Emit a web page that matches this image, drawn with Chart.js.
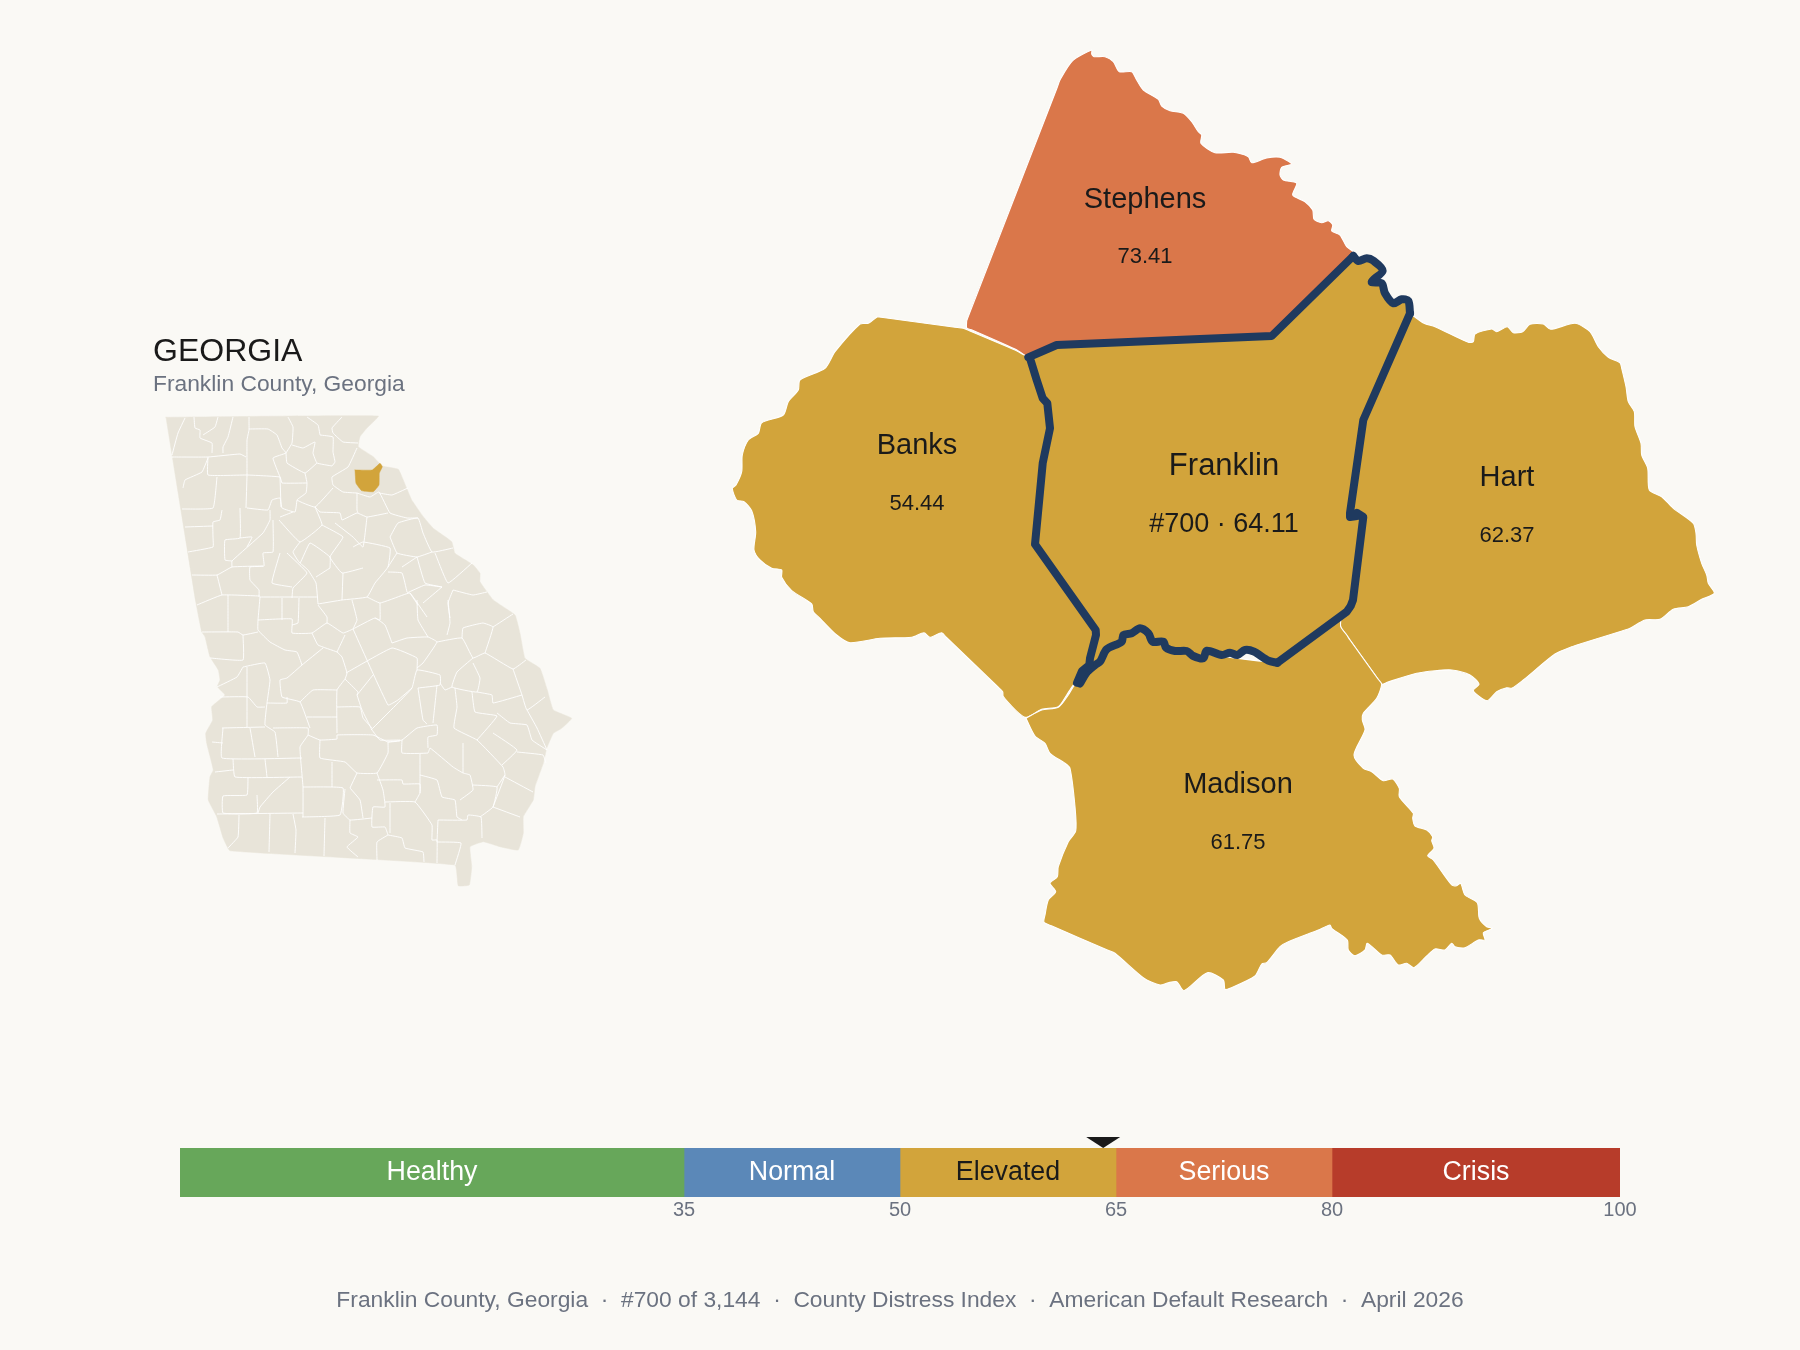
<!DOCTYPE html>
<html><head><meta charset="utf-8">
<script src="https://cdn.jsdelivr.net/npm/chart.js@4"></script>
<style>
html,body{margin:0;padding:0;background:#FAF9F5;width:1800px;height:1350px;overflow:hidden}
canvas{position:absolute;display:block}
</style></head><body>
<canvas id="map" width="1800" height="1350" style="left:0;top:0;width:1800px;height:1350px"></canvas>
<canvas id="strip" width="1560" height="100" style="left:120px;top:1130px;width:1560px;height:100px"></canvas>
<script>
const FONT='"Liberation Sans", Arial, sans-serif';
const bgColor='#FAF9F5', stateColor='#E8E4D9', navy='#1F3A5F', ink='#1A1A1A', slate='#6B7280';
const gold='#D2A43B', orange='#DA774A';

const countyNames=['Stephens','Banks','Franklin','Hart','Madison'];
const countyValues=['73.41','54.44','#700 · 64.11','62.37','61.75'];
const countyColors=[orange,gold,gold,gold,gold];
const labelX=[1145,917,1224,1507,1238];
const nameY=[200,446,466,478,785];
const valueY=[257,504,525,536,843];

const franklinWest=[[1353.3,256],[1271.7,336],[1056.7,345],[1028.3,357.3],[1030,358.3],[1036.7,380],[1042.7,398.3],[1047.3,403.3],[1050,428.3],[1042.7,463.3],[1035,544.3],[1095.7,630],[1096,635],[1090,658.3],[1089.3,665],[1082,671],[1077,682.7]];
const franklinSouth=[[1080,683.5],[1087,672],[1095,665],[1100,661.7],[1106.7,649.3],[1121.7,641.7],[1123.3,635],[1131.7,633.3],[1140,628.3],[1148.3,633.3],[1152.7,641.7],[1163.3,641.7],[1166,647.7],[1175,651],[1186.7,651],[1193.3,656],[1203.3,658.3],[1206.7,650.7],[1221.7,655],[1230,652.7],[1237.3,655],[1245,650],[1254,651.7],[1268.3,660.7],[1277.3,662.7]];
const franklinSouthEast=[[1277.3,662.7],[1346.7,611.7],[1350.7,606],[1353,600],[1363.3,517],[1357,513],[1357,516],[1350,517],[1350,513],[1363.3,420],[1410,313.3]];
const franklinNorthEast=[[1410,313.3],[1408.3,300.7],[1401.7,299.3],[1393.3,303.3],[1385,293.3],[1381.7,283.3],[1371.7,281.7],[1382.7,270.7],[1373.3,260.7],[1366.7,258.3],[1358.3,261],[1353.3,256]];

const stephensEdge=[[966.7,320.7],[970,312],[1057,88],[1060,80],[1072.7,60.7],[1091.7,50],[1091.7,54],[1094,56.7],[1105,56.7],[1113.3,61.7],[1119.3,71.7],[1131.7,71.7],[1136.7,80],[1143.3,90],[1158.3,99.3],[1161.7,106],[1170,110.7],[1183.3,113.3],[1191.7,121.7],[1198.3,131.7],[1201.7,135],[1201,143.3],[1215,152.7],[1233.3,152.3],[1248.3,156.7],[1251.7,162.7],[1266.7,158],[1280,157.3],[1291.7,164],[1281.7,167.3],[1280,175],[1283.3,180],[1296.7,183.3],[1292.7,195],[1305,201.7],[1312.7,210],[1314,219.3],[1321.7,222.7],[1328.3,220.7],[1332.7,225],[1331.7,231],[1340,235],[1346.7,246.7],[1353.3,251.7],[1353.3,256],[1347,262],[1278,330],[1271.7,336],[1263,336.4],[1065,344.6],[1056.7,345],[1050,348],[1035,354.4],[1028.3,357.3],[1020,352],[1015,349],[972,330],[966.7,328]];
const banksEdge=[[877.3,316.7],[885,317.7],[955,327.2],[963.3,328.3],[970,331],[1008,347],[1015,350],[1028.3,357.3],[1030,358.3],[1036.7,380],[1042.7,398.3],[1047.3,403.3],[1050,428.3],[1042.7,463.3],[1035,544.3],[1039,550],[1092,625],[1095.7,630],[1096,635],[1090,658.3],[1077,682.7],[1073.3,685],[1066.7,695],[1058.3,706.7],[1041.7,709.3],[1025,717.3],[1003.3,696.7],[1002.7,691.7],[998,687],[946,637],[941.7,632.7],[930,637.3],[924,632.7],[911.7,637.3],[880,638.3],[850,642.7],[836.7,635],[820,618.3],[813.3,611.7],[811.7,604],[791.7,590.7],[781.7,577.3],[781.7,570],[771.7,568.3],[760,560],[754,550],[755.7,531.7],[751.7,510.7],[744,501.7],[736.7,500],[732.3,488.3],[736,485],[741.7,471.7],[742.3,455],[748.3,440],[758.3,433.3],[761.7,422.7],[783.3,415],[788.3,401.7],[798.3,390],[800,380],[825,368.3],[835,351.7],[860,324],[868.3,323.3]];
const hartEdge=[[1410,313.3],[1424,323.3],[1435,326.7],[1468.3,342.3],[1473.3,341.7],[1475,334],[1491.7,329],[1496.7,331.7],[1507.3,326.7],[1513.3,332.7],[1522.7,331.7],[1530,324.3],[1543.3,324],[1550.7,329.3],[1575,323.3],[1590,331.7],[1598.3,346.7],[1608.3,357.3],[1620,362.7],[1621.7,368.3],[1626,386.7],[1628.3,401.7],[1634.3,411.7],[1635,426.7],[1641,443.3],[1641.7,455],[1647.7,468.3],[1649.3,490],[1661.7,496.7],[1673.3,508.3],[1693.3,523.3],[1696,533.3],[1696.7,545],[1701.7,563.3],[1706.7,575],[1708.3,583.3],[1714.3,593.3],[1701.7,599.3],[1688.3,606.7],[1673.3,609.3],[1660,619.3],[1645,620],[1630,628.3],[1622,631],[1580,644],[1571.7,646.7],[1555,654],[1523.3,680],[1511.7,688.3],[1506.7,687.7],[1496.7,691.7],[1487.3,700.7],[1473.3,690.7],[1479,684],[1470,675],[1451.7,670],[1435,670.7],[1416.7,673.3],[1388,682],[1381.7,684.3],[1378,679],[1350,640],[1346.7,635],[1340.7,626.7],[1340.7,616],[1350,606],[1353,600],[1354,590],[1362,527],[1363.3,517],[1350,513],[1352,500],[1362,428],[1363.3,420],[1366,414],[1407,320]];
const madisonEdge=[[1026,718.3],[1041.7,710],[1058.3,707.3],[1068.3,695],[1073.3,686.7],[1077,682.7],[1095,665],[1106.7,649.3],[1140,628.3],[1152.7,641.7],[1186.7,651],[1277.3,662.7],[1283,658.5],[1335,620],[1340.7,616],[1340.7,626.7],[1346.7,635],[1350,640],[1378,679],[1381.7,684.3],[1376.7,698.3],[1363.3,713.3],[1362.3,720],[1365,730],[1354,755],[1363.3,768.3],[1371.7,771.7],[1383.3,780.7],[1392.7,779],[1399.3,788.3],[1399.3,796.7],[1413.3,813.3],[1412.7,818.3],[1415,826],[1426.7,830],[1432.7,836.7],[1431.7,840.7],[1434,848.3],[1427.7,855.7],[1433.3,860],[1451.7,885],[1456.7,885.7],[1460.7,883.3],[1465,895],[1477.3,902.7],[1479.3,918.3],[1486.7,926.7],[1492.7,928.3],[1483.3,932.7],[1485,940],[1478.3,940],[1465,947.7],[1455,946.7],[1451.7,943.3],[1445,950],[1435,949],[1426.7,956],[1414,967.7],[1406.7,963.3],[1398.3,965],[1390,955],[1381.7,955],[1367.3,943.3],[1365,950],[1355,955.7],[1348.3,950],[1347.3,940],[1331.7,928.3],[1330,925],[1318.3,930],[1288.3,941.7],[1280,946.7],[1266.7,962.7],[1261.7,964],[1255,976],[1230,988.3],[1225,989.3],[1223.3,980],[1207.3,972.7],[1184,990.7],[1176.7,981.7],[1168.3,982.7],[1160,985],[1144,978.3],[1115,953.3],[1108,950.3],[1052,926],[1044,922.3],[1045,915],[1048.3,900],[1055.7,891.7],[1050,883.3],[1057.3,876.7],[1058.3,866.7],[1068.3,841.7],[1075.7,831],[1075,806.7],[1070,768.3],[1065,763.3],[1050,753.3],[1045,743.3],[1035,736]];

const georgiaOutline=[[166,417.3],[378.3,416],[366.7,428.3],[360,436.7],[358.3,446.7],[373.3,456.7],[382.3,466],[398.3,469.3],[406.7,488.3],[411.7,500],[423.3,516.7],[433.3,528.3],[451.7,541.7],[455,553.3],[473.3,565],[480,573.3],[480,581.7],[493.3,600],[515,615],[520,633.3],[525,658.3],[540,668.3],[547.3,690],[553.3,710],[571.7,718.3],[561.7,728.3],[553.3,733.3],[546.7,748.3],[543.3,763.3],[535,786.7],[533.3,800],[523.3,816.7],[523.3,833.3],[518.3,850],[500,846.7],[483.3,841.7],[470,846.7],[471.7,866.7],[469.3,885],[458.3,885.7],[455,865],[230,850.7],[223.3,838.3],[216.7,816.7],[208.3,800],[210,776.7],[213.3,770],[206.7,743.3],[205.7,733.3],[212.7,720],[211.7,706.7],[225,695],[217.3,686.7],[220,680],[218.3,670],[210,656.7],[205,636.7],[201.7,631.7],[196,603]];
const georgiaFranklin=[[355,470],[372.3,470],[380,463.3],[382.3,466.7],[379.3,473.3],[379,485],[373.3,491.7],[361.7,490.7],[356,483.3]];
const georgiaCountyLines=[
[185,418,178,433,172,455],[172,457,208,457,240,454,246,457],[194,417,195,428,200,430,200,438,212,443,212,453],[218,417,215,427,203,435],[233,417,228,437,223,447,223,453],[249,417,249,430,247,440,247,475,246,508],[249,429,268,429,277,435,282,448,286,453,273,458,280,477],[288,417,293,427,292,443,286,453],[307,417,318,425,320,435],[342,417,332,428,333,433,343,442,358,443],[292,445,303,448,315,442,313,453,317,463,332,466],[320,435,333,437,333,452,335,462,332,466],[286,453,287,463,305,473,317,463],[357,448,348,467,332,477,333,485,343,492,357,493],[305,473,307,483,306,493,297,500,315,507,333,488],[208,457,208,475,247,475,280,477,282,483,307,483],[208,458,202,472,185,480,183,488],[217,477,213,508,182,509],[247,508,268,510,272,500,280,498,282,508,295,512,297,500],[280,477,281,507],[222,510,220,520,213,522,213,537,213,547,188,552],[185,527,213,526],[240,508,240,538,225,540,225,560,232,561],[270,510,270,520,263,533,232,561,232,567],[240,538,252,537,247,547],[192,575,217,575,232,567,263,566],[273,520,273,552,263,553,264,566,250,567,250,580,259,590,259,597],[279,520,300,542,322,525,315,507],[280,517,293,512],[300,542,293,552,300,563,310,543,330,557,330,568],[322,525,343,537,330,557,342,573,363,568],[315,507,320,512,340,513,342,520,357,513,367,517,388,513],[357,493,357,510,358,513],[357,493,370,497,379,492,390,513,407,518,418,518],[379,493,392,495,408,488],[335,523,353,537,363,547,367,517],[353,547,363,542,390,548,388,567,375,583,367,597,342,600,318,604],[390,537,398,523,418,518,423,533,432,552,453,548],[390,537,397,553,417,557,432,552],[397,553,388,567],[417,557,425,583,442,587],[435,553,448,583,472,563],[442,587,423,603],[388,572,402,573,407,592],[402,567,417,557],[407,593,425,585,442,587],[453,590,448,603,450,618],[453,590,473,595,487,592],[343,573,342,600],[316,577,330,568],[300,563,308,570,316,583,318,604],[287,553,307,573,293,588,292,598],[280,553,272,583,292,587],[260,597,318,597],[197,605,222,595,260,596],[217,575,222,595],[228,595,228,632],[282,598,282,620],[299,598,298,623,292,625],[260,597,258,620],[318,605,327,617,327,623],[352,600,357,620,353,629],[380,603,380,620,375,618],[367,597,380,603,403,595,410,593,427,617],[410,593,418,605],
[202,632,238,632,243,635,258,632],[243,635,243,660,210,658],[258,620,258,630,270,642,285,650,297,652,302,665],[258,620,292,619,292,633,312,633,327,623,343,633,353,629,375,618,385,625,392,643],[312,633,318,645,337,652,342,657,347,673,345,679,337,690,337,733],[337,652,345,635],[323,648,302,665,287,678,280,680,282,697,300,702,310,728],[247,667,247,727],[243,667,265,663,270,680,267,703,265,725,275,732,278,757],[217,687,237,677,243,667],[220,697,248,697,257,707,265,707],[222,728,265,727],[223,728,222,758,302,758],[212,742,223,743],[250,728,255,757],[267,703,287,703,287,697],[273,728,308,728,308,735,300,747,303,787,303,817],[300,702,313,690,337,690],[307,717,337,717],[308,735,320,740,337,739,337,735,373,735,388,742,400,741],[320,740,320,758,345,762,357,773,377,773,388,753,388,742],[332,762,332,787],[233,759,235,777,302,777],[265,759,267,777],[215,772,233,770],[248,778,247,795,223,796,223,813,257,813,257,795],[290,777,273,792,260,807,258,813],[217,814,303,813],[239,815,238,837,228,848],[270,814,269,852],[293,814,296,830,295,853],[303,787,343,788,340,815,302,817],[325,818,324,856],[345,789,343,813,350,820,372,818],[350,788,357,773],[350,788,360,800,363,818],[377,773,383,790,385,807,373,807,372,827,385,827,388,835],[350,820,350,833,358,837,347,847,358,857],[388,835,377,842,377,860],[388,835,402,838,405,848,423,852,424,862],[390,803,390,833],[385,802,415,802,432,825,432,840,437,840,437,863],[437,842,461,843,455,865],[438,820,437,842],[438,820,467,820,468,815,481,817,482,838],[377,780,402,780,403,784,420,784,420,793,415,802],[420,775,420,793],[420,775,437,780,442,797,455,800,457,817,462,820],[420,754,420,775],[402,740,402,753,428,753,430,748,453,767,463,773,470,775,473,790,460,800],[388,742,402,740,417,728,437,725,437,735,428,737,428,748],[371,730,395,706,412,688,417,670,440,675,440,685,418,688],[353,629,388,705,398,700,412,688],[346,673,392,648,417,658,417,670],[392,643,407,638,428,637,437,642,423,663,417,668],[428,637,418,620,417,600],[437,642,462,638,473,658,485,653,513,669,526,660],[462,638,463,628,483,623,493,627,485,653],[493,627,513,614],[448,600,450,623,447,635],[473,658,457,672,452,687,477,692,480,678,473,663],[440,683,445,690,452,687],[477,692,492,695,493,703,522,695],[513,669,522,695,527,710,545,697],[472,692,475,712,497,716,477,740],[455,688,457,707,454,728,477,740,503,767,505,775,493,807],[437,685,433,723],[418,688,423,720,427,724],[372,730,380,740,400,740],[357,695,362,710,372,730],[373,675,357,695],[345,679,358,692,357,695],[337,707,360,707,363,718,372,728],[527,710,537,728,547,750],[497,713,510,723,527,725,532,740,547,750],[493,733,517,750,502,765],[517,752,543,755,546,763],[463,743,463,773],[505,777,533,792],[473,785,497,787,493,807,480,817],[493,807,520,817],[497,787,505,775]
];

const bandNames=['Healthy','Normal','Elevated','Serious','Crisis'];
const bandWidths=[35,15,15,15,20];
const bandColors=['#67A75A','#5B88B8',gold,orange,'#B73C2A'];
const bandTextColors=['#FFFFFF','#FFFFFF',ink,'#FFFFFF','#FFFFFF'];
const tickValues=[35,50,65,80,100];
const markerValue=64.11;

const stateTitle='GEORGIA';
const stateSubtitle='Franklin County, Georgia';
const footerText='Franklin County, Georgia  ·  #700 of 3,144  ·  County Distress Index  ·  American Default Research  ·  April 2026';

const pts=a=>a.map(p=>({x:p[0],y:p[1]}));
const close=a=>{const r=pts(a);r.push({...r[0]});return r;};
const linePts=[];
georgiaCountyLines.forEach(l=>{for(let i=0;i<l.length;i+=2)linePts.push({x:l[i],y:l[i+1]});linePts.push({x:NaN,y:NaN});});
const franklinRing=franklinWest.concat(franklinSouth,franklinSouthEast,franklinNorthEast);
const shape=(data,fillC,lineC,w,order,tension)=>({data,backgroundColor:fillC,borderColor:lineC,borderWidth:w,fill:'shape',showLine:true,pointRadius:0,tension,order,borderJoinStyle:'round',borderCapStyle:'round'});
const stroke=(a,tension)=>({data:pts(a),borderColor:navy,borderWidth:8,fill:false,showLine:true,pointRadius:0,tension,order:0,borderJoinStyle:'round',borderCapStyle:'round'});
const mapEdges=[stephensEdge,banksEdge,franklinRing,hartEdge,madisonEdge];
const datasets=[
 shape(close(georgiaOutline),stateColor,stateColor,0.5,20,0.1),
 {data:linePts,borderColor:'#FFFFFF',borderWidth:0.9,showLine:true,pointRadius:0,fill:false,spanGaps:false,order:19,tension:0.1,borderJoinStyle:'round'},
 shape(close(georgiaFranklin),gold,gold,0.5,18,0.1)
];
countyNames.forEach((n,i)=>{
  if(n==='Franklin')return;
  datasets.push(shape(close(mapEdges[i]),countyColors[i],'#FFFFFF',1.1,10-i,0.25));
});
datasets.push(shape(close(franklinRing),gold,gold,0,1,0));
datasets.push(stroke(franklinWest,0),stroke(franklinSouth,0.3),stroke(franklinSouthEast,0),stroke(franklinNorthEast,0.3));

const mapText={id:'mapText',afterDatasetsDraw(c){
  const g=c.ctx,X=c.scales.x,Y=c.scales.y;
  g.save();g.textBaseline='middle';g.textAlign='center';g.fillStyle=ink;
  countyNames.forEach((n,i)=>{
    const big=n==='Franklin';
    g.font=(big?31:29)+'px '+FONT;
    g.fillText(n,X.getPixelForValue(labelX[i]),Y.getPixelForValue(nameY[i]));
    g.font=(big?27:22)+'px '+FONT;
    g.fillText(countyValues[i],X.getPixelForValue(labelX[i]),Y.getPixelForValue(valueY[i]));
  });
  g.textAlign='left';
  g.font='32px '+FONT;g.fillText(stateTitle,153,352);
  g.font='22.8px '+FONT;g.fillStyle=slate;g.fillText(stateSubtitle,153,385);
  g.textAlign='center';g.fillText(footerText,900,1301);
  g.restore();
}};
new Chart(document.getElementById('map'),{type:'scatter',data:{datasets},plugins:[mapText],options:{
  responsive:false,animation:false,devicePixelRatio:1,layout:{padding:0},
  plugins:{legend:{display:false},tooltip:{enabled:false}},
  scales:{x:{type:'linear',min:0,max:1800,display:false},y:{type:'linear',min:0,max:1350,reverse:true,display:false}}
}});

const stripText={id:'stripText',afterDatasetsDraw(c){
  const g=c.ctx,X=c.scales.x,a=c.chartArea;
  g.save();g.textBaseline='middle';g.textAlign='center';g.font='26.8px '+FONT;
  let s=0;
  bandNames.forEach((n,i)=>{
    g.fillStyle=bandTextColors[i];
    g.fillText(n,X.getPixelForValue(s+bandWidths[i]/2),(a.top+a.bottom)/2);
    s+=bandWidths[i];
  });
  const m=X.getPixelForValue(markerValue);
  g.fillStyle=ink;g.beginPath();g.moveTo(m-17,a.top-11);g.lineTo(m+17,a.top-11);g.lineTo(m,a.top);g.closePath();g.fill();
  g.restore();
}};
new Chart(document.getElementById('strip'),{type:'bar',
  data:{labels:['Index'],datasets:bandNames.map((n,i)=>({label:n,data:[bandWidths[i]],backgroundColor:bandColors[i],borderWidth:0,barPercentage:1,categoryPercentage:1,stack:'s'}))},
  plugins:[stripText],
  options:{indexAxis:'y',responsive:false,animation:false,devicePixelRatio:1,
    layout:{padding:{left:60,right:60,top:18,bottom:0}},
    plugins:{legend:{display:false},tooltip:{enabled:false}},
    scales:{
      y:{display:false,stacked:true},
      x:{stacked:true,min:0,max:100,grid:{display:false,drawTicks:false},border:{display:false},
        afterBuildTicks(s){s.ticks=tickValues.map(v=>({value:v}));},
        afterFit(s){s.height=33;},
        ticks:{autoSkip:false,maxRotation:0,padding:1,color:slate,font:{family:FONT,size:20}}}
    }}
});
</script></body></html>
